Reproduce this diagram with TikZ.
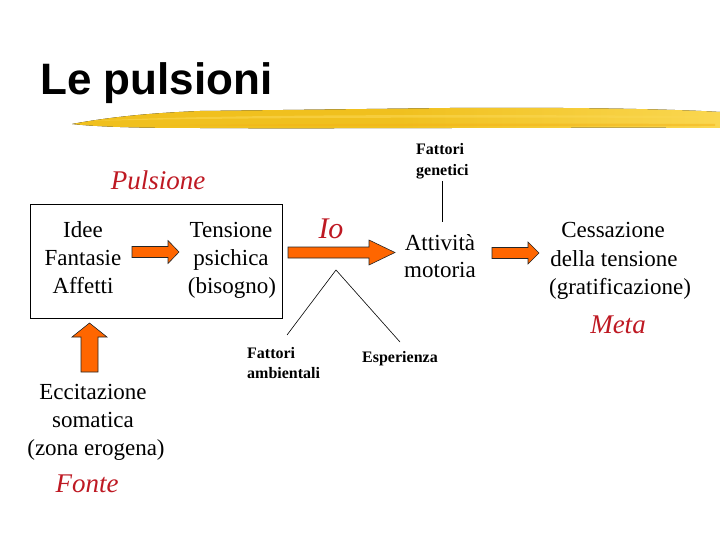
\documentclass[tikz,border=0pt]{standalone}
\usepackage{fontspec}
\setmainfont{Liberation Serif}
\newfontfamily\titlefont{Liberation Sans}
\definecolor{labred}{RGB}{190,25,35}
\definecolor{arrowor}{RGB}{255,102,0}
\definecolor{brushA}{RGB}{240,192,30}
\definecolor{brushB}{RGB}{250,215,80}
\begin{document}
\begin{tikzpicture}[x=1pt,y=-1pt,
  body/.style={font=\fontsize{23}{28}\selectfont, anchor=base, inner sep=0pt},
  redlab/.style={font=\itshape\fontsize{27}{30}\selectfont, text=labred, anchor=base, inner sep=0pt},
  small/.style={font=\bfseries\fontsize{16}{20}\selectfont, anchor=base west, inner sep=0pt},
  barrow/.style={fill=arrowor, draw=black!85, line width=0.6pt, line join=miter},
  thin line/.style={draw=black, line width=0.6pt}]
\useasboundingbox (0,0) rectangle (720,540);

% title
\node[anchor=base west, inner sep=0pt, font=\titlefont\bfseries\fontsize{44}{48}\selectfont] (title) at (40,95) {Le pulsioni};

% brush stroke
\fill[left color=brushA, right color=brushB, middle color=brushA]
  (72,124) .. controls (110,117) and (150,113) .. (200,111)
  -- (450,108) .. controls (600,107) and (690,110) .. (720,112)
  -- (720,128) .. controls (600,127) and (300,129) .. (200,128)
  .. controls (140,128) and (100,127) .. (72,124) -- cycle;
\fill[brushB, opacity=0.6] (90,121) .. controls (200,115) and (400,114) .. (700,116) -- (700,118) .. controls (400,117) and (200,118) .. (90,121) -- cycle;
\fill[brushA!80!orange, opacity=0.5] (150,125) .. controls (300,124) and (500,123) .. (715,124) -- (715,126) .. controls (500,126) and (300,127) .. (150,125) -- cycle;

% Pulsione box
\node[draw, line width=0.8pt, minimum width=252pt, minimum height=114pt, inner sep=0pt] (pbox) at (156,261) {};
\node[redlab] (pulsione) at (158,190) {Pulsione};

\node[body] (idee) at (83,237) {Idee};
\node[body] (fantasie) at (83,265) {Fantasie};
\node[body] (affetti) at (83,293) {Affetti};

\node[body] (tensione) at (231,237) {Tensione};
\node[body] (psichica) at (231,265) {psichica};
\node[body] (bisogno) at (232,293) {(bisogno)};

\node[redlab, font=\itshape\fontsize{30}{32}\selectfont] (io) at (331,239) {Io};

\node[body] (attivita) at (440,251) {Attività};
\node[body] (motoria) at (440,277) {motoria};

\node[body] (cess) at (613,237) {Cessazione};
\node[body] (della) at (614,266) {della tensione};
\node[body] (grat) at (620,294) {(gratificazione)};
\node[redlab] (meta) at (618,333) {Meta};

\node[body] (eccit) at (93,399) {Eccitazione};
\node[body] (somat) at (93,427) {somatica};
\node[body] (zona) at (96,455) {(zona erogena)};
\node[redlab] (fonte) at (87,492) {Fonte};

\node[small] (fgen1) at (416,155) {Fattori};
\node[small] (fgen2) at (416,176) {genetici};
\node[small] (famb1) at (247,358) {Fattori};
\node[small] (famb2) at (247,378) {ambientali};
\node[small] (esper) at (362,362) {Esperienza};

% block arrows
\draw[barrow] (132,246.5) -- (168,246.5) -- (168,240.5) -- (179,252) -- (168,263.5) -- (168,257.5) -- (132,257.5) -- cycle;
\draw[barrow] (288,247) -- (369,247) -- (369,240) -- (395,252.5) -- (369,265) -- (369,258) -- (288,258) -- cycle;
\draw[barrow] (492,247.5) -- (528,247.5) -- (528,242) -- (539,253) -- (528,264) -- (528,258.5) -- (492,258.5) -- cycle;
\draw[barrow] (81,372) -- (81,337) -- (72,337) -- (89.5,323) -- (107,337) -- (98,337) -- (98,372) -- cycle;

% connectors
\coordinate (apex) at (336,270);
\coordinate (ambend) at (287,335);
\coordinate (espend) at (400,342);
\coordinate (gentop) at (442,181);
\coordinate (genbot) at (442,222);
\draw[thin line] (ambend) -- (apex) -- (espend);
\draw[thin line] (gentop) -- (genbot);
\end{tikzpicture}
\end{document}
